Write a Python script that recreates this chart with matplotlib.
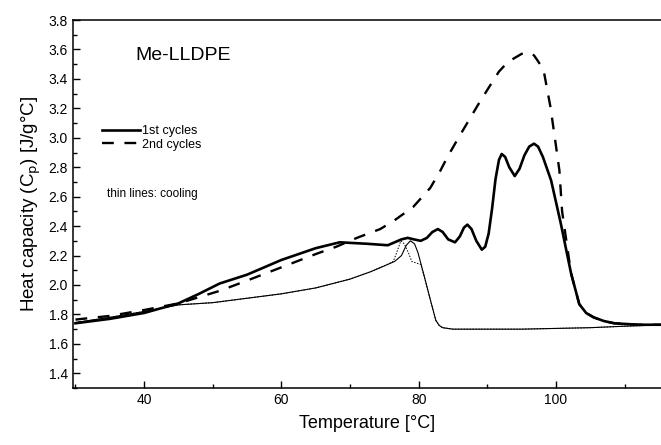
import matplotlib
matplotlib.use('Agg')
import matplotlib.pyplot as plt
from matplotlib.ticker import MultipleLocator

plt.rcParams['font.family'] = ['Liberation Sans', 'DejaVu Sans']

# 1st cycle, heating (thick solid)
t_heat1 = [30, 35, 40, 45, 48, 51, 55, 58, 60, 65, 68.5, 72.5, 75.5, 76.5, 77.5, 78.4, 79.3,
           80.3, 81.2, 82.0, 82.8, 83.5, 84.3, 85.3, 86.0, 86.6, 87.1, 87.7, 88.4, 89.2, 89.7,
           90.2, 90.7, 91.2, 91.7, 92.1, 92.6, 93.2, 94.0, 94.7, 95.4, 96.1, 96.8, 97.4,
           98.1, 99.3, 100.7, 102.2, 103.4, 104.4, 105.5, 107, 108.5, 112, 116]
cp_heat1 = [1.74, 1.77, 1.81, 1.875, 1.94, 2.01, 2.07, 2.13, 2.17, 2.25, 2.29, 2.28, 2.27,
            2.29, 2.31, 2.32, 2.31, 2.30, 2.32, 2.36, 2.38, 2.36, 2.31, 2.29, 2.33, 2.39,
            2.41, 2.38, 2.30, 2.24, 2.26, 2.35, 2.52, 2.72, 2.85, 2.89, 2.87, 2.80, 2.74, 2.79,
            2.88, 2.94, 2.96, 2.94, 2.87, 2.71, 2.42, 2.08, 1.87, 1.81, 1.78, 1.755, 1.74,
            1.73, 1.73]

# 2nd cycle, heating (thick dashed)
t_heat2 = [30, 35, 40, 45, 51, 55, 60, 65, 68, 71, 74.4, 76.5, 79.2, 81.7, 83.2, 84.2, 85.8,
           87.2, 88.6, 90.2, 91.7, 92.9, 93.9, 95.0, 96.0, 96.8, 97.4, 98.2, 99.2, 99.9,
           100.5, 100.9, 102.2, 103.4, 104.4, 105.5, 107, 108.5, 112, 116]
cp_heat2 = [1.765, 1.79, 1.83, 1.875, 1.96, 2.03, 2.12, 2.21, 2.26, 2.32, 2.38, 2.44, 2.53,
            2.66, 2.78, 2.87, 3.00, 3.11, 3.22, 3.34, 3.45, 3.51, 3.54, 3.57, 3.58, 3.56,
            3.52, 3.46, 3.21, 2.98, 2.78, 2.50, 2.08, 1.87, 1.81, 1.78, 1.755, 1.74, 1.73, 1.73]

# 1st cycle, cooling (thin solid)
t_cool1 = [30, 35, 40, 45, 50, 55, 60, 65, 70, 73, 75, 76.5, 77.5, 78.2, 78.8, 79.4, 79.9,
           80.7, 81.7, 82.5, 83.0, 83.5, 85, 95, 105, 110, 116]
cp_cool1 = [1.745, 1.78, 1.82, 1.865, 1.88, 1.91, 1.94, 1.98, 2.04, 2.09, 2.13, 2.16, 2.20,
            2.27, 2.30, 2.28, 2.22, 2.08, 1.90, 1.76, 1.725, 1.71, 1.70, 1.70, 1.71, 1.72, 1.73]

# 2nd cycle, cooling (thin dotted)
t_cool2 = [30, 35, 40, 45, 50, 55, 60, 65, 70, 73, 75, 75.5, 76.3, 76.8, 77.4, 77.9, 78.5,
           79.0, 79.6, 80.3, 80.8, 81.7, 82.5, 83.0, 83.5, 85, 95, 105, 110, 116]
cp_cool2 = [1.745, 1.78, 1.82, 1.865, 1.88, 1.91, 1.94, 1.98, 2.04, 2.09, 2.13, 2.14, 2.16,
            2.22, 2.30, 2.28, 2.22, 2.16, 2.15, 2.14, 2.06, 1.90, 1.76, 1.725, 1.71, 1.70,
            1.70, 1.71, 1.72, 1.73]

fig = plt.figure(figsize=(6.61, 4.45), dpi=100)
ax = fig.add_axes([0.110, 0.128, 0.892, 0.827])

h1, = ax.plot(t_heat1, cp_heat1, color='black', lw=1.9, label='1st cycles',
              solid_joinstyle='round')
h2, = ax.plot(t_heat2, cp_heat2, color='black', lw=1.7, ls=(0, (5, 4.5)), label='2nd cycles')
ax.plot(t_cool1, cp_cool1, color='black', lw=0.8, solid_joinstyle='round')
ax.plot(t_cool2, cp_cool2, color='black', lw=0.7, ls=(0, (1.5, 1.5)))

ax.set_xlim(29.6, 115.5)
ax.set_ylim(1.3, 3.8)
ax.xaxis.set_minor_locator(MultipleLocator(10))
ax.yaxis.set_major_locator(MultipleLocator(0.2))
ax.yaxis.set_minor_locator(MultipleLocator(0.1))
ax.set_xticks([40, 60, 80, 100])
ax.tick_params(which='both', direction='in', labelsize=10, width=1)
ax.tick_params(which='major', length=5)
ax.tick_params(which='minor', length=3)
ax.spines['right'].set_visible(False)
for s in ['left', 'bottom', 'top']:
    ax.spines[s].set_linewidth(1.1)

ax.set_xlabel('Temperature [°C]', fontsize=13, labelpad=6)
ax.set_ylabel('Heat capacity (C$_\\mathrm{p}$) [J/g°C]', fontsize=13.5, labelpad=4)

ax.text(38.8, 3.56, 'Me-LLDPE', fontsize=14, va='center', ha='left')
ax.text(34.6, 2.62, 'thin lines: cooling', fontsize=8.5, va='center', ha='left')

ax.legend(handles=[h1, h2], loc='upper left', bbox_to_anchor=(0.05, 0.715), frameon=False,
          fontsize=9, handlelength=3.0, handletextpad=0.2, labelspacing=0.15,
          borderpad=0, borderaxespad=0)

fig.savefig('out.png', dpi=100)
